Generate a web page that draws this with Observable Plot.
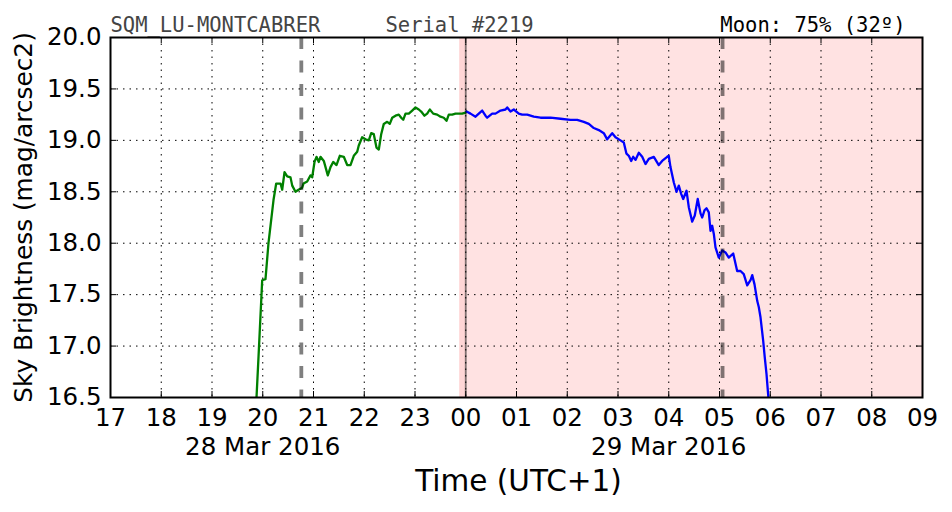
<!DOCTYPE html>
<html>
<head>
<meta charset="utf-8">
<script src="https://cdn.jsdelivr.net/npm/d3@7"></script>
<script src="https://cdn.jsdelivr.net/npm/@observablehq/plot@0.6"></script>
<style>
  html, body { margin: 0; padding: 0; background: white; }
</style>
</head>
<body>
<div id="chart"></div>
<script>
// ---- data (hours since 00:00 of 28 Mar 2016, UTC+1) ----
const greenHours = [19.818,19.877,19.917,19.989,20.054,20.113,20.212,20.265,20.350,20.383,20.429,20.482,20.547,20.581,20.645,20.704,20.777,20.803,20.876,20.941,20.974,21.020,21.059,21.104,21.138,21.203,21.282,21.335,21.388,21.453,21.518,21.597,21.664,21.729,21.794,21.861,21.892,21.959,22.025,22.090,22.137,22.188,22.241,22.287,22.334,22.385,22.452,22.503,22.551,22.616,22.681,22.728,22.768,22.813,22.878,22.945,23.010,23.075,23.122,23.187,23.240,23.292,23.359,23.437,23.502,23.567,23.621,23.666,23.733,23.798,23.863,23.930,23.995,24.015];
const greenMag   = [16.20,16.50,16.90,17.64,17.65,18.00,18.42,18.58,18.58,18.52,18.69,18.65,18.64,18.56,18.50,18.52,18.54,18.58,18.60,18.66,18.64,18.79,18.84,18.79,18.84,18.80,18.66,18.74,18.79,18.76,18.85,18.84,18.76,18.76,18.85,18.89,18.95,19.03,19.01,19.00,19.07,19.06,18.93,18.91,19.06,19.16,19.18,19.16,19.22,19.24,19.25,19.22,19.20,19.26,19.26,19.29,19.32,19.30,19.28,19.24,19.26,19.30,19.26,19.25,19.23,19.22,19.19,19.25,19.25,19.26,19.26,19.26,19.27,19.28];
const blueHours  = [24.015,24.094,24.192,24.257,24.324,24.389,24.423,24.521,24.586,24.685,24.783,24.817,24.882,24.947,25.045,25.112,25.211,25.341,25.473,25.670,25.867,26.064,26.196,26.326,26.425,26.523,26.622,26.720,26.787,26.852,26.886,26.951,27.049,27.114,27.167,27.213,27.260,27.300,27.345,27.410,27.477,27.542,27.607,27.706,27.803,27.870,27.969,28.000,28.034,28.100,28.153,28.198,28.245,28.285,28.350,28.395,28.462,28.513,28.571,28.626,28.659,28.704,28.744,28.789,28.823,28.856,28.888,28.921,28.986,29.053,29.118,29.183,29.270,29.348,29.414,29.478,29.546,29.611,29.645,29.690,29.743,29.774,29.808,29.861,29.892,29.926,29.960,29.985];
const blueMag    = [19.28,19.26,19.23,19.26,19.29,19.24,19.22,19.26,19.26,19.29,19.30,19.32,19.28,19.30,19.26,19.25,19.25,19.23,19.22,19.22,19.21,19.20,19.20,19.18,19.16,19.12,19.10,19.07,19.01,19.05,19.07,19.03,19.00,18.98,18.87,18.85,18.80,18.84,18.81,18.88,18.84,18.77,18.82,18.84,18.76,18.80,18.84,18.85,18.74,18.59,18.50,18.56,18.48,18.43,18.51,18.35,18.21,18.27,18.43,18.29,18.25,18.32,18.34,18.30,18.12,18.17,18.09,17.96,17.86,17.93,17.91,17.86,17.90,17.73,17.73,17.70,17.59,17.64,17.69,17.60,17.44,17.38,17.28,17.05,16.89,16.73,16.52,16.35];

const xTicks = [17,18,19,20,21,22,23,24,25,26,27,28,29,30,31,32,33];
const yTicks = [16.5,17.0,17.5,18.0,18.5,19.0,19.5,20.0];
const xDomain = [17, 33];
const yDomain = [16.5, 20.0];

const dateLabels = [{x: 20, label: "28 Mar 2016"}, {x: 28, label: "29 Mar 2016"}];
const nightSpan = [{x1: 23.88, x2: 33}];
const edgeSpan = [{x1: 23.88, x2: 24.0}];
const midnight = [24.0];
const moonLines = [20.76, 29.06];

const titleLeft = ["SQM_LU-MONTCABRER"];
const titleSerial = ["Serial #2219"];
const titleMoon = ["Moon: 75% (32º)"];
const xLabel = ["Time (UTC+1)"];
const yLabel = ["Sky Brightness (mag/arcsec2)"];

const green = greenHours.map((h, i) => ({h, m: greenMag[i]}));
const blue = blueHours.map((h, i) => ({h, m: blueMag[i]}));

const fmtHour = d => String(d % 24).padStart(2, "0");

const chart = Plot.plot({
  width: 952,
  height: 512,
  marginLeft: 110,
  marginRight: 30,
  marginTop: 37,
  marginBottom: 115,
  style: {fontFamily: "DejaVu Sans", background: "white", color: "black", overflow: "visible"},
  x: {domain: xDomain, label: null},
  y: {domain: yDomain, label: null},
  marks: [
    // night span
    Plot.rect(nightSpan, {x1: "x1", x2: "x2", fill: "red", fillOpacity: 0.115}),
    Plot.rect(edgeSpan, {x1: "x1", x2: "x2", fill: "red", fillOpacity: 0.05}),
    // grid
    Plot.gridX(xTicks, {stroke: "black", strokeOpacity: 1, strokeWidth: 1, strokeDasharray: "1.5,5"}),
    Plot.gridY(yTicks, {stroke: "black", strokeOpacity: 1, strokeWidth: 1, strokeDasharray: "1.5,5"}),
    // inner ticks
    Plot.tickX(xTicks, {x: d => d, insetBottom: 354, stroke: "black"}),
    Plot.tickX(xTicks, {x: d => d, insetTop: 354, stroke: "black"}),
    Plot.tickY(yTicks, {y: d => d, insetRight: 806, stroke: "black"}),
    Plot.tickY(yTicks, {y: d => d, insetLeft: 806, stroke: "black"}),
    // data
    Plot.line(green, {x: "h", y: "m", stroke: "green", strokeWidth: 2.3, clip: true}),
    Plot.line(blue, {x: "h", y: "m", stroke: "blue", strokeWidth: 2.3, clip: true}),
    // midnight & moon lines
    Plot.ruleX(midnight, {stroke: "black", strokeOpacity: 0.5, strokeWidth: 1.8}),
    Plot.ruleX(moonLines, {stroke: "black", strokeOpacity: 0.5, strokeWidth: 3.8, strokeDasharray: "12,11.5"}),
    // axes
    Plot.axisX(xTicks, {tickSize: 0, tickPadding: 11, tickFormat: fmtHour, fontSize: 24.5, label: null}),
    Plot.axisY(yTicks, {tickSize: 0, tickPadding: 9, tickFormat: d3.format(".1f"), fontSize: 24.5, label: null}),
    Plot.text(dateLabels, {x: "x", text: "label", frameAnchor: "bottom", lineAnchor: "top", dy: 40, fontSize: 24.5}),
    Plot.text(xLabel, {text: d => d, frameAnchor: "bottom", lineAnchor: "top", dy: 73, dx: 2, fontSize: 29.5}),
    Plot.text(yLabel, {text: d => d, frameAnchor: "left", textAnchor: "middle", lineAnchor: "middle", rotate: -90, dx: -86, fontSize: 24.8}),
    // frame
    Plot.frame({stroke: "black", strokeWidth: 2}),
    // titles
    Plot.text(titleLeft, {text: d => d, frameAnchor: "top-left", textAnchor: "start", lineAnchor: "bottom", dy: -6, fontFamily: "DejaVu Sans Mono", fontSize: 20.5, fill: "#444"}),
    Plot.text(titleSerial, {text: d => d, frameAnchor: "top-left", textAnchor: "start", lineAnchor: "bottom", dx: 275, dy: -6, fontFamily: "DejaVu Sans Mono", fontSize: 20.5, fill: "#444"}),
    Plot.text(titleMoon, {text: d => d, frameAnchor: "top-right", textAnchor: "end", lineAnchor: "bottom", dx: -17, dy: -6, fontFamily: "DejaVu Sans Mono", fontSize: 20.5, fill: "black"})
  ]
});
document.getElementById("chart").appendChild(chart);
</script>
</body>
</html>
